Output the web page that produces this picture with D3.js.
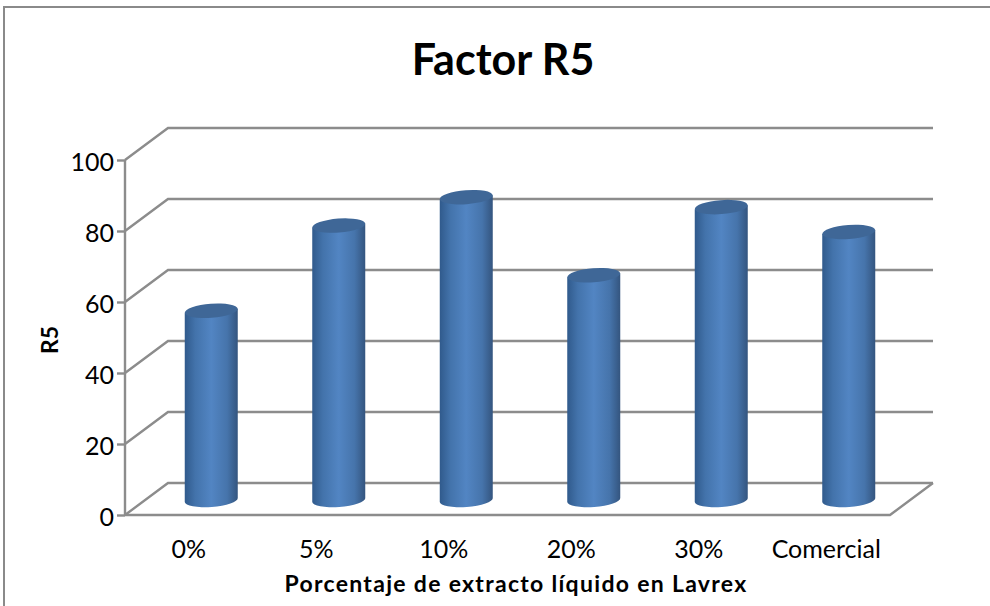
<!DOCTYPE html>
<html>
<head>
<script src="https://d3js.org/d3.v7.min.js"></script>
<style>
  body { margin: 0; background: #fff; }
  text { font-family: Lato, "Noto Sans", sans-serif; fill: #000; }
  .tick text { font-size: 25px; }
</style>
</head>
<body>
<svg id="chart" width="990" height="606"></svg>
<script>
// values
var categories = ["0%", "5%", "10%", "20%", "30%", "Comercial"];
var r5Values = [53.3, 77.3, 85.3, 63.3, 82.5, 75.5];
var yTicks = [0, 20, 40, 60, 80, 100];

var svg = d3.select("#chart");
var gridColor = "#8c8c8c";

// frame around the chart
svg.append("path")
  .attr("d", "M4,606V7H990")
  .attr("fill", "none")
  .attr("stroke", "#8a8a8a")
  .attr("stroke-width", 2);

// scales for the front plane, the back wall is just shifted by depth
var depthX = 43, depthY = -32;
var x = d3.scaleBand().domain(categories).range([125, 890]);
var y = d3.scaleLinear().domain([0, 100]).range([515, 160]);

// side wall and back wall gridlines
var grid = svg.append("g").attr("fill", "none").attr("stroke", gridColor).attr("stroke-width", 2.4);
grid.selectAll("path.wall")
  .data(yTicks)
  .enter().append("path")
  .attr("class", "wall")
  .attr("d", function(d) {
    return d3.line()([[125, y(d)], [125 + depthX, y(d) + depthY], [890 + depthX, y(d) + depthY]]);
  });

// floor front edge and right edge
grid.append("path")
  .attr("d", d3.line()([[125, y(0)], [890, y(0)], [890 + depthX, y(0) + depthY]]));

// y axis
var yAxis = svg.append("g")
  .attr("transform", "translate(125,0)")
  .call(d3.axisLeft(y).tickValues(yTicks).tickSize(8).tickPadding(3));
yAxis.selectAll("path, line").attr("stroke", gridColor).attr("stroke-width", 2.4);
yAxis.select("path").attr("d", d3.line()([[0, y(0)], [0, y(100)]]));
yAxis.selectAll("text").attr("dy", "0.42em");

// x axis, only the labels show
var xAxis = svg.append("g")
  .attr("transform", "translate(0,515)")
  .call(d3.axisBottom(x).tickSize(0).tickPadding(25));
xAxis.select("path").remove();

// cylinder shading
var grad = svg.append("defs").append("linearGradient")
  .attr("id", "cyl");
grad.append("stop").attr("offset", "0%").attr("stop-color", "#305a8c");
grad.append("stop").attr("offset", "20%").attr("stop-color", "#4373ab");
grad.append("stop").attr("offset", "50%").attr("stop-color", "#5285c3");
grad.append("stop").attr("offset", "80%").attr("stop-color", "#4674ab");
grad.append("stop").attr("offset", "100%").attr("stop-color", "#34557f");

// bars as cylinders standing mid depth on the floor
var barW = 53, rx = barW / 2, ry = 7, tilt = -4.3;
var bars = svg.append("g").selectAll("g")
  .data(categories)
  .enter().append("g")
  .attr("transform", function(d) {
    return "translate(" + (x(d) + x.bandwidth() / 2 + 22.5) + ",0)";
  });

bars.append("path")
  .attr("fill", "url(#cyl)")
  .attr("d", function(d, i) {
    var top = y(r5Values[i]) - 15, base = y(0) - 15;
    return "M" + (-rx) + "," + (top + 2) +
      "L" + (-rx) + "," + (base + 2) +
      "A" + rx + "," + ry + "," + tilt + ",0,0," + rx + "," + (base - 2) +
      "L" + rx + "," + (top - 2) + "Z";
  });

bars.append("ellipse")
  .attr("rx", rx)
  .attr("ry", ry)
  .attr("fill", "#3f6797")
  .attr("transform", function(d, i) {
    return "translate(0," + (y(r5Values[i]) - 15) + ") rotate(" + tilt + ")";
  });

// titles
svg.append("text")
  .attr("x", 503).attr("y", 75)
  .attr("text-anchor", "middle")
  .style("font-size", "43px").style("font-weight", 700)
  .text("Factor R5");

svg.append("text")
  .attr("x", 516).attr("y", 592)
  .attr("text-anchor", "middle")
  .style("font-size", "23px").style("font-weight", 700)
  .style("letter-spacing", "1.3px")
  .text("Porcentaje de extracto líquido en Lavrex");

svg.append("text")
  .attr("transform", "translate(58,340) rotate(-90)")
  .attr("text-anchor", "middle")
  .style("font-size", "23px").style("font-weight", 700)
  .text("R5");
</script>
</body>
</html>
